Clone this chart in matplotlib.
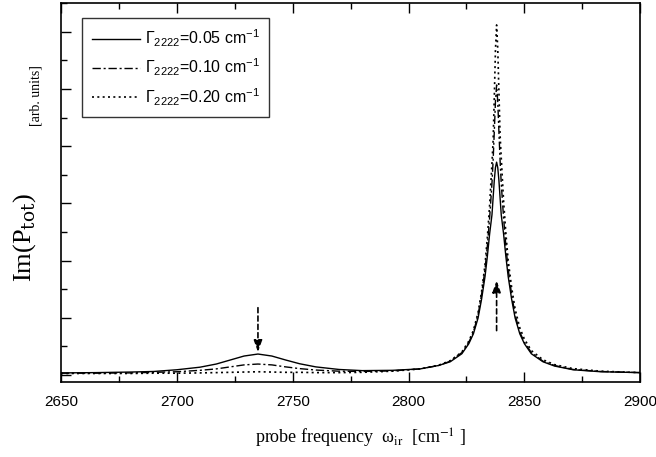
import matplotlib
matplotlib.use("Agg")
import matplotlib.pyplot as plt
from matplotlib.ticker import MultipleLocator

# probe frequency grid (cm^-1) and Im(P_tot) (arb. units)
freq = [2650, 2665, 2680, 2690, 2700, 2710, 2717, 2723, 2729, 2735, 2741, 2747,
        2753, 2760, 2770, 2780, 2793, 2805, 2813, 2818, 2823, 2826, 2828, 2830,
        2831.5, 2833, 2834, 2835, 2836, 2836.5, 2837, 2837.5, 2838, 2838.5, 2839,
        2839.5, 2840, 2841, 2842, 2843, 2844.5, 2846, 2848, 2850, 2853, 2858,
        2863, 2871, 2883, 2900]

g005 = [0.07, 0.08, 0.10, 0.12, 0.18, 0.27, 0.38, 0.52, 0.66, 0.73, 0.66, 0.52,
        0.39, 0.28, 0.19, 0.15, 0.16, 0.21, 0.33, 0.46, 0.74, 1.09, 1.44, 1.99,
        2.64, 3.44, 4.14, 4.94, 5.60, 6.20, 6.80, 7.25, 7.44, 7.25, 6.80,
        6.20, 5.60, 4.94, 4.14, 3.44, 2.64, 1.99, 1.44, 1.09, 0.74, 0.46,
        0.31, 0.18, 0.11, 0.08]

g010 = [0.06, 0.06, 0.07, 0.09, 0.11, 0.16, 0.21, 0.28, 0.35, 0.38, 0.35, 0.28,
        0.22, 0.17, 0.13, 0.12, 0.14, 0.21, 0.33, 0.48, 0.78, 1.14, 1.50, 2.10,
        2.80, 3.70, 4.50, 5.50, 6.70, 7.50, 8.50, 9.55, 10.14, 9.55, 8.50,
        7.50, 6.70, 5.50, 4.50, 3.70, 2.80, 2.10, 1.50, 1.14, 0.78, 0.48,
        0.33, 0.19, 0.12, 0.08]

g020 = [0.05, 0.05, 0.05, 0.06, 0.06, 0.07, 0.08, 0.09, 0.10, 0.11, 0.10, 0.09,
        0.09, 0.08, 0.08, 0.09, 0.13, 0.21, 0.34, 0.50, 0.80, 1.18, 1.56, 2.18,
        2.90, 3.85, 4.80, 5.95, 7.40, 8.20, 9.70, 11.35, 12.24, 11.40, 9.90,
        8.40, 7.60, 6.10, 4.95, 4.00, 3.05, 2.30, 1.65, 1.25, 0.85, 0.53,
        0.36, 0.22, 0.13, 0.08]

labels = [r"$\Gamma_{2222}$=0.05 cm$^{-1}$",
          r"$\Gamma_{2222}$=0.10 cm$^{-1}$",
          r"$\Gamma_{2222}$=0.20 cm$^{-1}$"]

# dashed arrows: (x, y_tail, y_head)
arrows = [(2735, 2.35, 0.80), (2838, 1.55, 3.30)]

plt.rcParams["mathtext.fontset"] = "custom"
plt.rcParams["mathtext.rm"] = "Liberation Sans"
plt.rcParams["mathtext.it"] = "Liberation Sans"
plt.rcParams["font.family"] = "Liberation Sans"

fig = plt.figure(figsize=(6.56, 4.57), dpi=100, facecolor="white")
ax = fig.add_axes([0.093, 0.164, 0.883, 0.829])

ax.plot(freq, g005, color="black", lw=1.0, ls="-", label=labels[0])
ax.plot(freq, g010, color="black", lw=1.0, ls=(0, (6, 2, 1.5, 2)), label=labels[1])
ax.plot(freq, g020, color="black", lw=1.2, ls=(0, (1.2, 2)), label=labels[2])

for x, y0, y1 in arrows:
    ax.annotate("", xy=(x, y1), xytext=(x, y0),
                arrowprops=dict(arrowstyle="-|>,head_length=0.7,head_width=0.25",
                                color="black", lw=1.2, ls=(0, (3, 2)),
                                shrinkA=0, shrinkB=0))

ax.set_xlim(2650, 2900)
ax.set_ylim(-0.25, 13.0)
ax.xaxis.set_major_locator(MultipleLocator(50))
ax.xaxis.set_minor_locator(MultipleLocator(25))
ax.yaxis.set_major_locator(MultipleLocator(2))
ax.yaxis.set_minor_locator(MultipleLocator(1))
ax.tick_params(which="both", direction="in", top=True, right=False,
               labelleft=False, width=1.0)
ax.tick_params(which="major", length=7, labelsize=11, pad=9)
ax.tick_params(which="minor", length=4)
for s in ax.spines.values():
    s.set_linewidth(1.2)

leg = ax.legend(loc="upper left", bbox_to_anchor=(0.037, 0.961), fontsize=11.5,
                frameon=True, fancybox=False, edgecolor="black",
                handlelength=3.0, labelspacing=0.5, borderpad=0.6,
                handletextpad=0.3, borderaxespad=0)
leg.get_frame().set_linewidth(1.0)

fig.text(0.038, 0.48, r"Im(P$_{\rm tot}$)", rotation=90, ha="center", va="center",
         fontsize=19, family="Liberation Serif", math_fontfamily="dejavuserif")
fig.text(0.055, 0.79, "[arb. units]", rotation=90, ha="center", va="center",
         fontsize=10, family="Liberation Serif")
fig.text(0.55, 0.04, "probe frequency  ω$_{\\rm ir}$  [cm$^{-1}$ ]",
         ha="center", va="center", fontsize=13, family="Liberation Serif",
         math_fontfamily="stix")

fig.savefig("out.png", dpi=100, facecolor="white")
